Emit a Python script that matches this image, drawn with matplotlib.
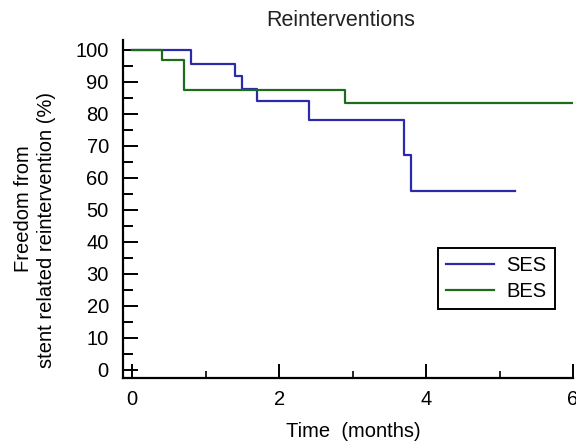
import matplotlib.pyplot as plt
from matplotlib.ticker import MultipleLocator

plt.rcParams['font.family'] = ['Liberation Sans', 'DejaVu Sans']

# Kaplan-Meier step data
ses_t = [0, 0.80, 1.40, 1.50, 1.70, 2.40, 3.70, 3.79, 5.21]
ses_y = [100, 95.7, 91.7, 87.8, 84.0, 78.0, 67.0, 56.0, 56.0]
bes_t = [0, 0.40, 0.70, 2.90, 6.0]
bes_y = [100, 96.7, 87.3, 83.5, 83.5]

fig = plt.figure(figsize=(5.76, 4.41), dpi=100)
ax = fig.add_axes([0.213, 0.143, 0.782, 0.766])

ax.step(ses_t, ses_y, where='post', color='#2a2aaa', lw=1.6, label='SES')
ax.step(bes_t, bes_y, where='post', color='#1d6b1d', lw=1.6, label='BES')

ax.set_xlim(-0.13, 6.0)
ax.set_ylim(-2.5, 103)
ax.xaxis.set_major_locator(MultipleLocator(2))
ax.xaxis.set_minor_locator(MultipleLocator(1))
ax.yaxis.set_major_locator(MultipleLocator(10))
ax.yaxis.set_minor_locator(MultipleLocator(5))

for s in ['top', 'right']:
    ax.spines[s].set_visible(False)
for s in ['left', 'bottom']:
    ax.spines[s].set_linewidth(1.6)

ax.tick_params(axis='both', which='major', direction='in', labelsize=14.5, width=1.4)
ax.tick_params(axis='y', which='major', length=11, pad=10)
ax.tick_params(axis='y', which='minor', direction='in', length=7, width=1.4)
ax.tick_params(axis='x', which='major', length=10, pad=9)
ax.tick_params(axis='x', which='minor', direction='in', length=5, width=1.2)

fig.text(0.613, 0.022, 'Time  (months)', ha='center', va='center', fontsize=14.5)
fig.text(0.592, 0.953, 'Reinterventions', ha='center', va='center', fontsize=15.5,
         color='#222222')
fig.text(0.040, 0.528, 'Freedom from', rotation=90, ha='center', va='center',
         fontsize=14.5)
fig.text(0.080, 0.478, 'stent related reintervention (%)', rotation=90,
         ha='center', va='center', fontsize=14.5)

leg = ax.legend(loc='upper left', bbox_to_anchor=(0.70, 0.385), fontsize=14.5,
                fancybox=False, edgecolor='black', framealpha=1,
                handlelength=2.4, borderpad=0.4, labelspacing=0.35,
                handletextpad=0.6, borderaxespad=0)
leg.get_frame().set_linewidth(1.4)

fig.savefig('out.png', dpi=100)
